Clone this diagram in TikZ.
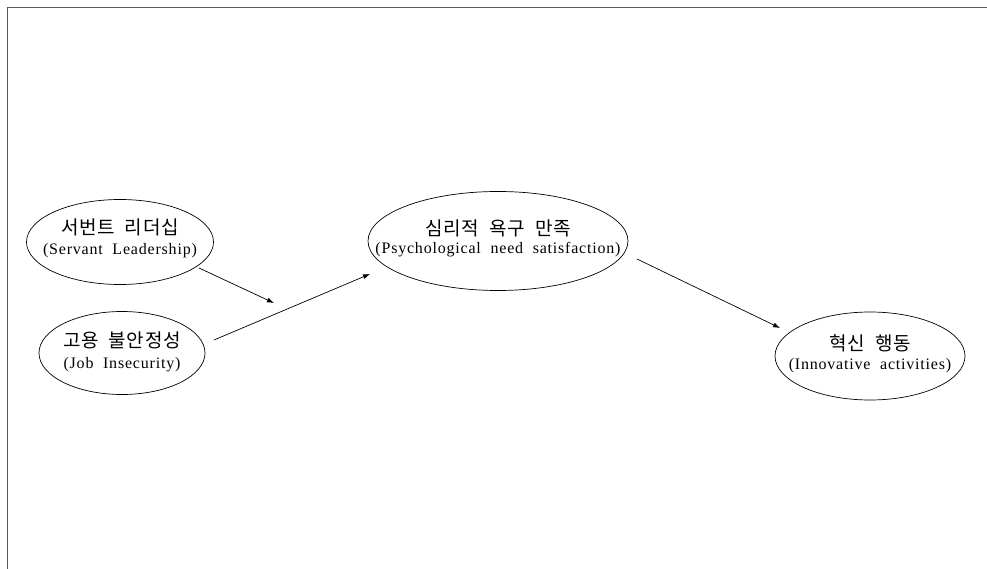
\documentclass[tikz,border=0pt]{standalone}
\usepackage{fontspec}
\setmainfont{Liberation Serif}[LetterSpace=5]
\newfontfamily\kor{Noto Sans CJK KR}[LetterSpace=4]
\usetikzlibrary{arrows.meta,shapes.geometric}
\tikzset{
  elli/.style={draw, ellipse, line width=0.7pt, inner sep=0pt, align=center},
  conn/.style={line width=0.7pt, -{Latex[length=7pt,width=5pt]}},
  kt/.style={font=\kor\fontsize{19}{21}\selectfont},
  et/.style={font=\fontsize{16}{18}\selectfont},
}
\begin{document}
\begin{tikzpicture}[x=1pt,y=-1pt]
\useasboundingbox (0,0) rectangle (987,569);
\draw[line width=1.5pt, gray!70!black] (987,7.5) -- (7.5,7.5) -- (7.5,569);
\node[elli, minimum width=187pt, minimum height=85pt] (sl) at (120,242) {};
\node[kt] (slk) at (120,227) {서번트\ \ 리더십};
\node[et] (sle) at (120,251) {(Servant\ \ Leadership)};
\node[elli, minimum width=166pt, minimum height=83pt] (ji) at (122,353) {};
\node[kt] (jik) at (122,340) {고용\ \ 불안정성};
\node[et] (jie) at (122,365) {(Job\ \ Insecurity)};
\node[elli, minimum width=260pt, minimum height=99pt] (ps) at (498,241) {};
\node[kt] (psk) at (498,228) {심리적\ \ 욕구\ \ 만족};
\node[et] (pse) at (498,250) {(Psychological\ \ need\ \ satisfaction)};
\node[elli, minimum width=190pt, minimum height=88pt] (ia) at (870,356) {};
\node[kt] (iak) at (870,343) {혁신\ \ 행동};
\node[et] (iae) at (870,366) {(Innovative\ \ activities)};
\coordinate (s1) at (199,268);
\coordinate (e1) at (274,303);
\coordinate (s2) at (214,340);
\coordinate (e2) at (370,274);
\coordinate (s3) at (637,259);
\coordinate (e3) at (780,328);
\draw[conn] (s1) -- (e1);
\draw[conn] (s2) -- (e2);
\draw[conn] (s3) -- (e3);
\end{tikzpicture}
\end{document}
